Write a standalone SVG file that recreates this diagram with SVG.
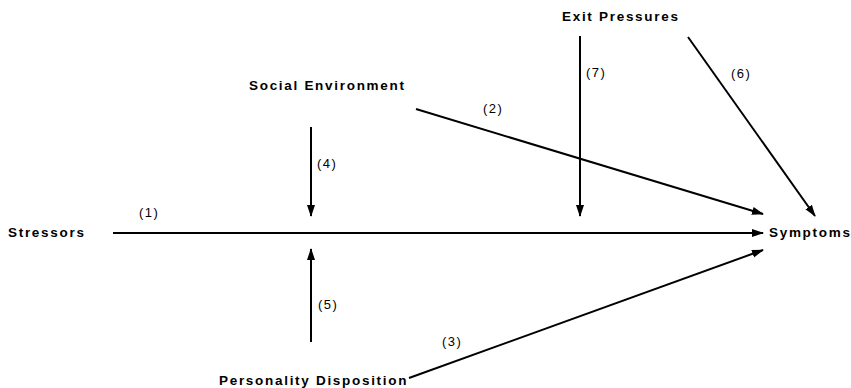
<svg xmlns="http://www.w3.org/2000/svg" width="851" height="388" viewBox="0 0 851 388">
<style>
.n{font-family:"Liberation Sans",Arial,sans-serif;font-weight:bold;font-size:13.5px;letter-spacing:1.7px;fill:#000}
.l{font-family:"Liberation Sans",Arial,sans-serif;font-size:13px;letter-spacing:1.5px;fill:#000}
.c{stroke:#000;stroke-width:2;fill:none;marker-end:url(#a)}
</style>
<defs>
<marker id="a" viewBox="0 0 12 10" refX="11" refY="5" markerWidth="6" markerHeight="5" orient="auto" markerUnits="strokeWidth">
<path d="M0,1 L12,5 L0,9 z" fill="#000"/>
</marker>
</defs>
<rect width="851" height="388" fill="#fff"/>
<g id="stressors"><text class="n" x="8" y="237">Stressors</text></g>
<g id="symptoms"><text class="n" x="769" y="237">Symptoms</text></g>
<g id="social"><text class="n" x="249" y="90">Social Environment</text></g>
<g id="personality"><text class="n" x="219" y="385">Personality Disposition</text></g>
<g id="exit"><text class="n" x="562" y="21">Exit Pressures</text></g>
<g id="connectors">
<line class="c" x1="113" y1="233" x2="763" y2="233"/>
<line class="c" x1="311" y1="127" x2="311" y2="216"/>
<line class="c" x1="311" y1="342" x2="311" y2="249"/>
<line class="c" x1="416" y1="109" x2="763" y2="214"/>
<line class="c" x1="409" y1="378" x2="763" y2="250"/>
<line class="c" x1="580" y1="36" x2="580" y2="216"/>
<line class="c" x1="688" y1="37" x2="815" y2="216"/>
<text class="l" x="139" y="217">(1)</text>
<text class="l" x="483" y="113">(2)</text>
<text class="l" x="442" y="346">(3)</text>
<text class="l" x="317" y="168">(4)</text>
<text class="l" x="318" y="309">(5)</text>
<text class="l" x="731" y="78">(6)</text>
<text class="l" x="586" y="77">(7)</text>
</g>
</svg>
